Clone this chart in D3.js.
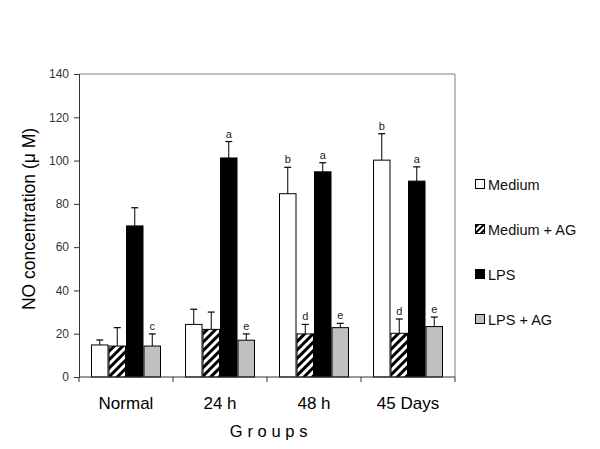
<!DOCTYPE html>
<html><head><meta charset="utf-8">
<script src="https://cdn.jsdelivr.net/npm/d3@7"></script>
<style>body{margin:0;background:#fff}svg{display:block}</style>
</head><body>
<script>
const groups = ["Normal", "24 h", "48 h", "45 Days"];
const seriesNames = ["Medium", "Medium + AG", "LPS", "LPS + AG"];
const medium    = [14.8, 24.3, 84.7, 100.2];
const mediumAG  = [14.3, 22.0, 19.9, 20.2];
const lps       = [69.8, 101.2, 94.8, 90.5];
const lpsAG     = [14.3, 17.0, 22.8, 23.3];
const mediumErr   = [2.3, 7.0, 12.2, 12.2];
const mediumAGErr = [8.5, 8.0, 4.4, 6.6];
const lpsErr      = [8.4, 7.6, 4.2, 6.6];
const lpsAGErr    = [5.6, 2.9, 2.0, 4.4];
const mediumSig   = ["", "", "b", "b"];
const mediumAGSig = ["", "", "d", "d"];
const lpsSig      = ["", "a", "a", "a"];
const lpsAGSig    = ["c", "e", "e", "e"];
const yTicks = [0, 20, 40, 60, 80, 100, 120, 140];

const series = [
  {name: seriesNames[0], vals: medium, err: mediumErr, sig: mediumSig, fill: "#ffffff"},
  {name: seriesNames[1], vals: mediumAG, err: mediumAGErr, sig: mediumAGSig, fill: "url(#hatch)"},
  {name: seriesNames[2], vals: lps, err: lpsErr, sig: lpsSig, fill: "#000000"},
  {name: seriesNames[3], vals: lpsAG, err: lpsAGErr, sig: lpsAGSig, fill: "#c0c0c0"}
];

const FONT = "Liberation Sans, Arial, sans-serif";
const W = 600, H = 449;
const pLeft = 79, pRight = 455, pTop = 74, pBottom = 377;
const svg = d3.select("body").append("svg").attr("width", W).attr("height", H);

const defs = svg.append("defs");
const pat = defs.append("pattern").attr("id", "hatch").attr("patternUnits", "userSpaceOnUse")
  .attr("width", 6).attr("height", 6).attr("patternTransform", "rotate(45)");
pat.append("rect").attr("width", 6).attr("height", 6).attr("fill", "#fff");
pat.append("rect").attr("x", 0).attr("width", 3).attr("height", 6).attr("fill", "#000");

const pat2 = defs.append("pattern").attr("id", "hatchS").attr("patternUnits", "userSpaceOnUse")
  .attr("width", 4).attr("height", 4).attr("patternTransform", "rotate(45)");
pat2.append("rect").attr("width", 4).attr("height", 4).attr("fill", "#fff");
pat2.append("rect").attr("width", 2).attr("height", 4).attr("fill", "#000");

const y = d3.scaleLinear().domain([0, 140]).range([pBottom, pTop]);
const x0 = d3.scaleBand().domain(groups).range([pLeft, pRight]).paddingInner(0).paddingOuter(0);
const x1 = d3.scaleBand().domain(seriesNames).range([12, x0.bandwidth() - 12]).padding(0);

// frame
svg.append("line").attr("x1", pLeft).attr("x2", pRight).attr("y1", pTop).attr("y2", pTop).attr("stroke", "#808080");
svg.append("line").attr("x1", pRight).attr("x2", pRight).attr("y1", pTop).attr("y2", pBottom).attr("stroke", "#808080");

// bars
series.forEach(s => {
  const g = svg.append("g");
  groups.forEach((grp, i) => {
    const bx = x0(grp) + x1(s.name);
    const bw = x1.bandwidth();
    const cx = bx + bw / 2;
    const eTop = y(s.vals[i] + s.err[i]);
    g.append("line").attr("x1", cx).attr("x2", cx).attr("y1", y(s.vals[i])).attr("y2", eTop)
      .attr("stroke", "#000").attr("stroke-width", 1);
    g.append("line").attr("x1", cx - 3.5).attr("x2", cx + 3.5).attr("y1", eTop).attr("y2", eTop)
      .attr("stroke", "#000").attr("stroke-width", 1.2);
    g.append("rect").attr("x", bx + 0.5).attr("y", y(s.vals[i])).attr("width", bw - 1)
      .attr("height", pBottom - y(s.vals[i])).attr("fill", s.fill).attr("stroke", "#000").attr("stroke-width", 1);
    if (s.sig[i]) {
      g.append("text").attr("x", cx).attr("y", eTop - 4).attr("text-anchor", "middle")
        .attr("font-family", FONT).attr("font-size", 11).attr("fill", "#222")
        .text(s.sig[i]);
    }
  });
});

// y axis
const yAxis = svg.append("g").attr("transform", `translate(${pLeft},0)`)
  .call(d3.axisLeft(y).tickValues(yTicks).tickSize(5).tickPadding(5));
yAxis.selectAll("path,line").attr("stroke", "#333");
yAxis.selectAll("text").attr("font-family", FONT).attr("font-size", 12).attr("fill", "#333");

// x axis
const xAxis = svg.append("g").attr("transform", `translate(0,${pBottom})`);
xAxis.append("line").attr("x1", pLeft).attr("x2", pRight).attr("stroke", "#333");
const bounds = groups.map(g => x0(g)).concat([pRight]);
xAxis.selectAll("line.t").data(bounds).enter().append("line").attr("class", "t")
  .attr("x1", d => d).attr("x2", d => d).attr("y1", 0).attr("y2", 5).attr("stroke", "#333");
xAxis.selectAll("text").data(groups).enter().append("text")
  .attr("x", d => x0(d) + x0.bandwidth() / 2).attr("y", 32).attr("text-anchor", "middle")
  .attr("font-family", FONT).attr("font-size", 17).attr("fill", "#000")
  .text(d => d);

svg.append("text").attr("x", 271).attr("y", 437).attr("text-anchor", "middle")
  .attr("font-family", FONT).attr("font-size", 16.5).attr("letter-spacing", 4.7)
  .text("Groups");

svg.append("text").attr("transform", "translate(35,219) rotate(-90)").attr("text-anchor", "middle")
  .attr("font-family", FONT).attr("font-size", 17.5)
  .text("NO concentration (\u03BC M)");

// legend
const legend = svg.append("g");
series.forEach((s, i) => {
  const ly = 184 + i * 45;
  legend.append("rect").attr("x", 475.5).attr("y", ly - 4.5).attr("width", 9).attr("height", 9)
    .attr("fill", i === 1 ? "url(#hatchS)" : s.fill).attr("stroke", "#000").attr("stroke-width", 1);
  legend.append("text").attr("x", 488).attr("y", ly + 5.5).attr("font-family", FONT)
    .attr("font-size", 14.5).attr("fill", "#111").text(s.name);
});
</script>
</body></html>
